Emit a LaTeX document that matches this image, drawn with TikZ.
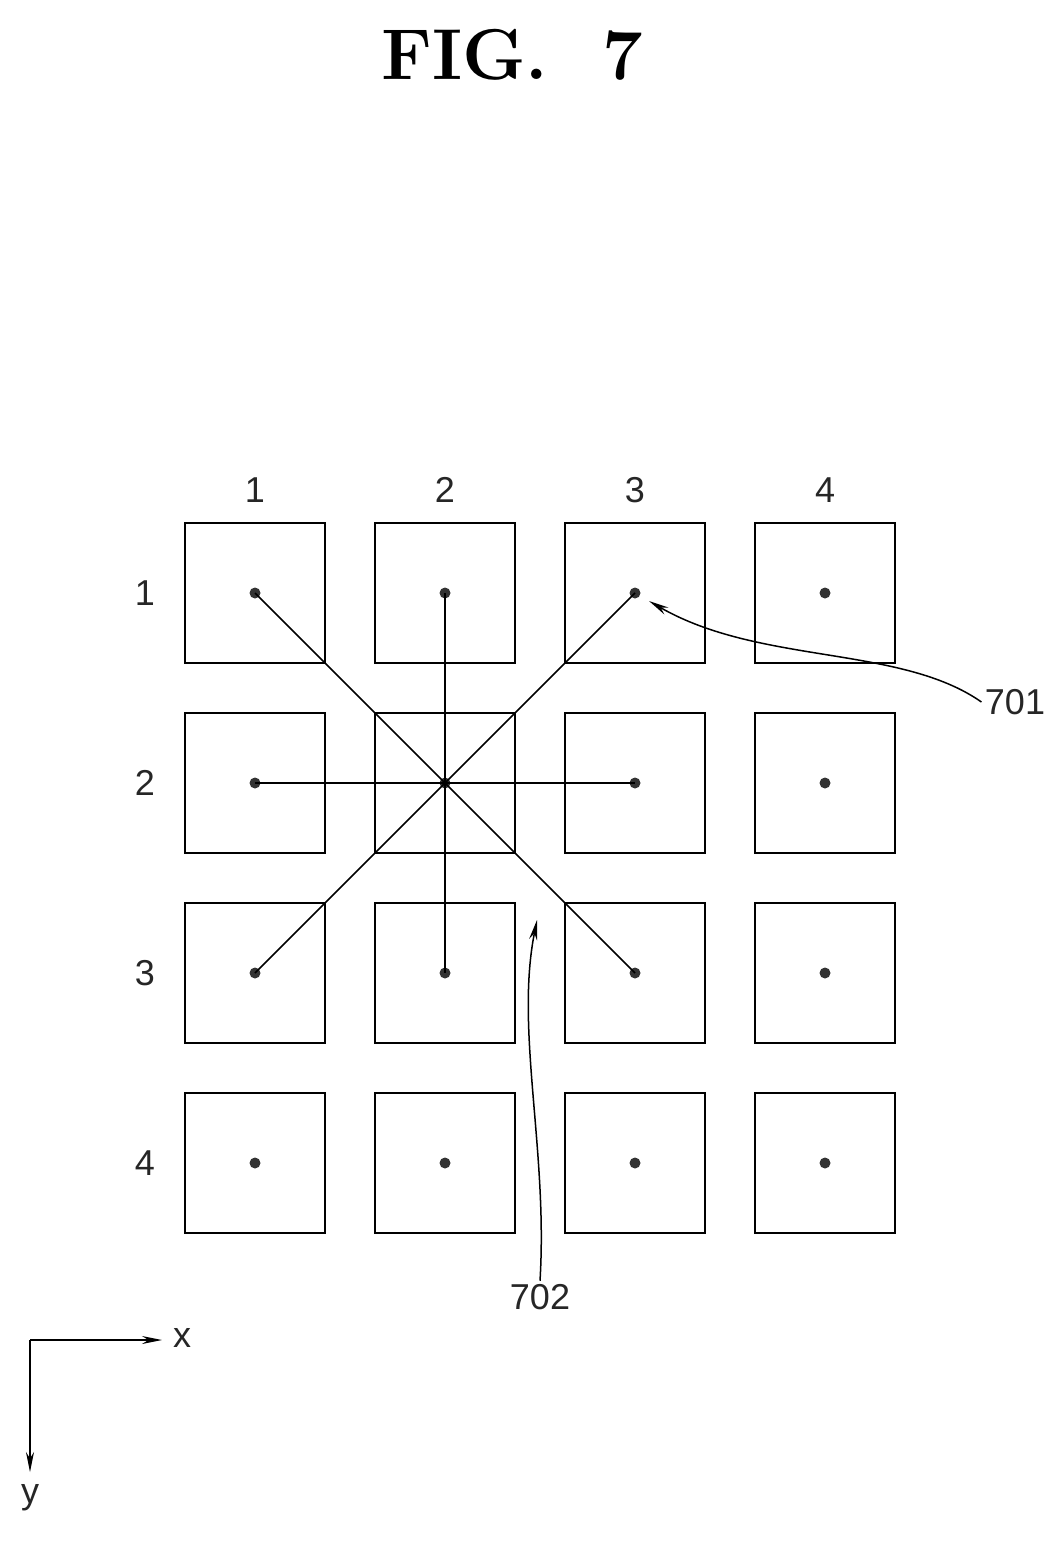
\documentclass[tikz,border=0pt]{standalone}
\usepackage{fontspec}
\setsansfont{Liberation Sans}
\usetikzlibrary{arrows.meta}
\tikzset{
  cell/.style={draw, line width=1.3pt, rectangle, minimum size=140pt, inner sep=0pt},
  dot/.style={circle, fill=black!80, minimum size=11pt, inner sep=0pt},
  lbl/.style={font=\sffamily\fontsize{36}{36}\selectfont, text=black!85},
  link/.style={line width=1.5pt},
  lead/.style={line width=1.5pt, -{Stealth[length=20pt,width=8pt]}}
}
\begin{document}
\begin{tikzpicture}[x=1pt, y=-1pt]
        \useasboundingbox (0,0) rectangle (1060,1541);
        \node[font=\bfseries\fontsize{72}{72}\selectfont] (TITLE) at (512,55) {FIG.~~7};

        % cells and centre dots
        \foreach \i in {1,...,4}{
          \foreach \j in {1,...,4}{
            \node[cell] (C\i\j) at (65+190*\i, 403+190*\j) {};
            \node[dot] (D\i\j) at (C\i\j.center) {};
          }
          \node[lbl] (COL\i) at (65+190*\i, 490) {\i};
          \node[lbl] (ROW\i) at (145, 403+190*\i) {\i};
        }

        % links from the centre cell
        \foreach \t in {11,21,31,12,32,13,23,33}
          \draw[link] (D22.center) -- (D\t.center);

        \node[lbl] (L701) at (1015,702) {701};
        \node[lbl] (L702) at (540,1297) {702};
        \draw[lead] (L701.west) .. controls (900,645) and (760,665) .. ([shift={(14,8)}]D31.center);
        \draw[lead] (L702.north) .. controls (548,1150) and (515,1030) .. (537,920);

        % axes
        \coordinate (O) at (30,1340);
        \node[lbl] (AX) at (182,1338) {x};
        \node[lbl] (AY) at (30,1498) {y};
        \draw[lead] (O) -- (162,1340);
        \draw[lead] (O) -- (30,1472);
\end{tikzpicture}
\end{document}
